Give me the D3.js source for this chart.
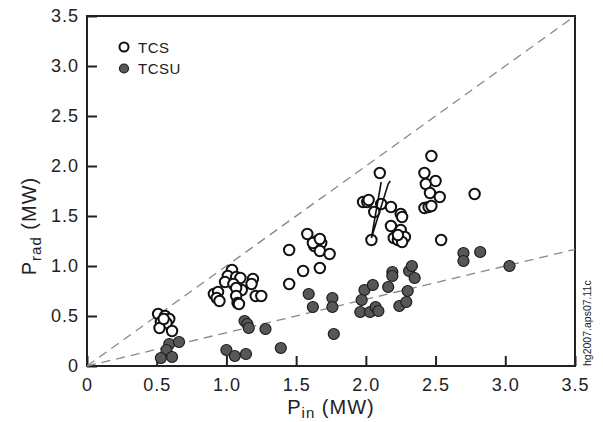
<!DOCTYPE html>
<html>
<head>
<meta charset="utf-8">
<script src="https://cdn.jsdelivr.net/npm/d3@7"></script>
<style>
  body { margin: 0; background: #fff; }
  text { font-family: "Liberation Sans", Arial, sans-serif; fill: #222; }
</style>
</head>
<body>
<div id="chart"></div>
<script>
// P_in (MW), P_rad (MW)
const tcsX = [0.51,0.56,0.59,0.53,0.57,0.52,0.61,0.55,
  1.04,1.01,1.07,1.10,0.99,1.05,1.11,1.07,1.19,1.18,0.91,0.94,0.93,0.95,1.07,1.08,1.09,1.21,1.25,
  1.45,1.58,1.65,1.68,1.63,1.67,1.74,1.55,1.67,1.45,1.62,1.67,
  2.10,1.98,2.01,2.02,2.11,2.18,2.06,2.04,2.25,2.26,2.18,2.25,2.20,2.24,2.28,2.23,2.26,2.23,
  2.47,2.42,2.43,2.50,2.46,2.53,2.42,2.45,2.47,2.78,2.54];
const tcsY = [0.52,0.50,0.47,0.44,0.43,0.38,0.35,0.47,
  0.96,0.90,0.89,0.88,0.84,0.82,0.76,0.78,0.87,0.82,0.72,0.74,0.68,0.65,0.70,0.63,0.62,0.70,0.70,
  1.16,1.32,1.25,1.23,1.20,1.15,1.12,0.95,0.98,0.82,1.23,1.27,
  1.93,1.64,1.64,1.66,1.62,1.59,1.54,1.26,1.52,1.49,1.40,1.36,1.28,1.29,1.29,1.26,1.24,1.31,
  2.10,1.93,1.82,1.85,1.73,1.69,1.58,1.59,1.60,1.72,1.26];

const tcsuX = [0.59,0.66,0.57,0.61,0.53,
  1.13,1.15,1.16,1.28,1.00,1.06,1.14,1.39,
  1.59,1.62,1.76,1.76,1.77,1.99,1.97,2.05,1.96,2.03,2.07,2.09,2.16,2.19,2.19,
  2.24,2.29,2.30,2.31,2.33,2.35,2.70,2.70,2.82,3.03];
const tcsuY = [0.22,0.24,0.16,0.09,0.08,
  0.45,0.42,0.38,0.37,0.16,0.10,0.12,0.18,
  0.72,0.59,0.68,0.59,0.32,0.76,0.66,0.81,0.54,0.54,0.59,0.55,0.79,0.94,0.90,
  0.60,0.64,0.75,0.95,1.00,0.88,1.13,1.05,1.14,1.00];

// the thin open V drawn from a TCS point near 2.05 MW
const wedgeX = [2.11, 2.04, 2.16, 2.175];
const wedgeY = [1.84, 1.28, 1.82, 1.85];

const refSlopes = [1, 1/3];
const ticks = [0, 0.5, 1.0, 1.5, 2.0, 2.5, 3.0, 3.5];

const W = 603, H = 422;
const m = {left: 87, top: 16, right: 28, bottom: 56};
const w = W - m.left - m.right, h = H - m.top - m.bottom;

const svg = d3.select('#chart').append('svg').attr('width', W).attr('height', H);
const g = svg.append('g').attr('transform', `translate(${m.left},${m.top})`);

const x = d3.scaleLinear().domain([0, 3.5]).range([0, w]);
const y = d3.scaleLinear().domain([0, 3.5]).range([h, 0]);
const fmt = d => d === 0 ? '0' : d3.format('.1f')(d);

const xAxis = g.append('g').attr('transform', `translate(0,${h})`)
  .call(d3.axisBottom(x).tickValues(ticks).tickFormat(fmt).tickSize(-10).tickPadding(12));
const yAxis = g.append('g')
  .call(d3.axisLeft(y).tickValues(ticks).tickFormat(fmt).tickSize(-10).tickPadding(8));
[xAxis, yAxis].forEach(a => {
  a.select('.domain').remove();
  a.selectAll('line').attr('stroke', '#222').attr('stroke-width', 2);
  a.selectAll('text').attr('font-size', 18).attr('letter-spacing', 1).attr('fill', '#222')
    .attr('font-family', '"Liberation Sans", Arial, sans-serif');
});

// frame
g.append('rect').attr('width', w).attr('height', h)
  .attr('fill', 'none').attr('stroke', '#222').attr('stroke-width', 2);

// reference lines
g.selectAll('line.ref').data(refSlopes).join('line').attr('class', 'ref')
  .attr('x1', x(0)).attr('y1', y(0))
  .attr('x2', x(3.5)).attr('y2', s => y(3.5 * s))
  .attr('stroke', '#888').attr('stroke-width', 1.3).attr('stroke-dasharray', '9,6');

// TCSU filled
g.selectAll('circle.tcsu').data(tcsuX).join('circle').attr('class', 'tcsu')
  .attr('cx', d => x(d)).attr('cy', (d, i) => y(tcsuY[i])).attr('r', 5.5)
  .attr('fill', '#575757').attr('stroke', '#1a1a1a').attr('stroke-width', 1.2);

// TCS open
g.selectAll('circle.tcs').data(tcsX).join('circle').attr('class', 'tcs')
  .attr('cx', d => x(d)).attr('cy', (d, i) => y(tcsY[i])).attr('r', 5.2)
  .attr('fill', '#fff').attr('stroke', '#111').attr('stroke-width', 2);

g.append('path')
  .attr('d', d3.line().x(d => x(wedgeX[d])).y(d => y(wedgeY[d]))(d3.range(wedgeX.length)))
  .attr('fill', 'none').attr('stroke', '#111').attr('stroke-width', 1.6);

// legend
const leg = g.append('g').attr('transform', 'translate(37,31)');
[['TCS', '#fff', '#111', 2], ['TCSU', '#575757', '#1a1a1a', 1.2]].forEach((l, i) => {
  leg.append('circle').attr('cx', 0).attr('cy', i * 21.5).attr('r', 4.5)
    .attr('fill', l[1]).attr('stroke', l[2]).attr('stroke-width', l[3]);
  leg.append('text').attr('x', 14).attr('y', i * 21.5 + 5.5).attr('font-size', 15)
    .attr('letter-spacing', 0.5).text(l[0]);
});

// axis titles
const xt = svg.append('text').attr('x', m.left + w / 2).attr('y', 414)
  .attr('text-anchor', 'middle').attr('font-size', 20).attr('letter-spacing', 1);
xt.append('tspan').text('P');
xt.append('tspan').attr('font-size', 15).attr('dy', 4).text('in');
xt.append('tspan').attr('dy', -4).text(' (MW)');

const yt = svg.append('text').attr('transform', 'translate(36,226) rotate(-90)')
  .attr('text-anchor', 'middle').attr('font-size', 20).attr('letter-spacing', 1);
yt.append('tspan').text('P');
yt.append('tspan').attr('font-size', 15).attr('dy', 5).text('rad');
yt.append('tspan').attr('dy', -5).text(' (MW)');

svg.append('text').attr('transform', `translate(${m.left + w + 16},${m.top + h}) rotate(-90)`)
  .attr('font-size', 10.5).text('hg2007.aps07.11c');
</script>
</body>
</html>
